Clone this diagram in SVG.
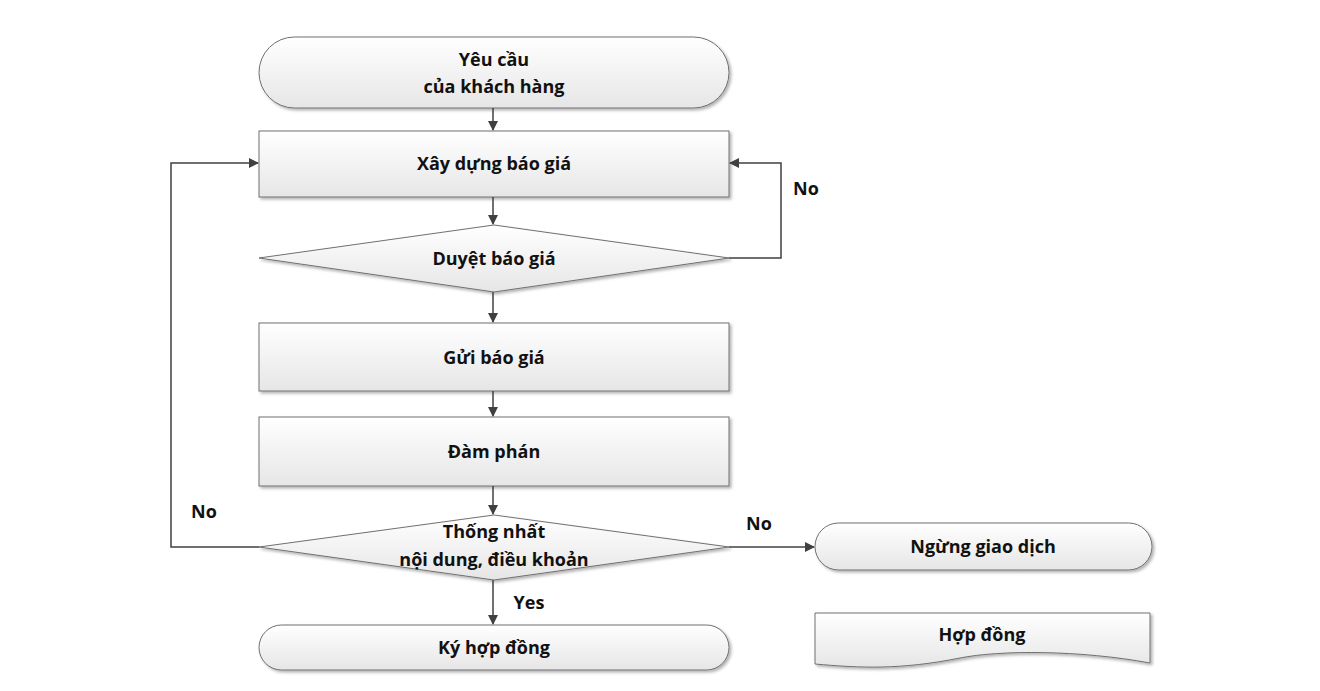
<svg xmlns="http://www.w3.org/2000/svg" width="1320" height="691" viewBox="0 0 1320 691">
<defs>
<linearGradient id="g" x1="0" y1="0" x2="0" y2="1"><stop offset="0" stop-color="#ffffff"/><stop offset="1" stop-color="#e6e6e6"/></linearGradient>
<filter id="sh" x="-5%" y="-10%" width="110%" height="130%"><feDropShadow dx="2" dy="2" stdDeviation="1.5" flood-color="#000" flood-opacity="0.3"/></filter>
<marker id="a" markerWidth="10" markerHeight="10" refX="9" refY="5" orient="auto" markerUnits="userSpaceOnUse"><path d="M0,0 L10,5 L0,10 Z" fill="#404040"/></marker>
</defs>
<style>
.s{fill:url(#g);stroke:#707070;stroke-width:1;filter:url(#sh)}
.t{font-family:"Open Sans","Noto Sans",sans-serif;font-weight:bold;font-size:18px;fill:#111;text-anchor:middle}
.c{fill:none;stroke:#404040;stroke-width:1.5;marker-end:url(#a)}
</style>
<rect width="1320" height="691" fill="#fff"/>
<g id="n1"><rect class="s" x="259" y="37" width="470" height="71" rx="35.5"/><text class="t" x="494" y="66">Yêu cầu</text><text class="t" x="494" y="93">của khách hàng</text></g>
<g id="n2"><rect class="s" x="259" y="131" width="470" height="66"/><text class="t" x="494" y="170">Xây dựng báo giá</text></g>
<g id="n3"><polygon class="s" points="259,258 494,225 729,258 494,292"/><text class="t" x="494" y="265">Duyệt báo giá</text></g>
<g id="n4"><rect class="s" x="259" y="323" width="470" height="68"/><text class="t" x="494" y="364">Gửi báo giá</text></g>
<g id="n5"><rect class="s" x="259" y="417" width="470" height="69"/><text class="t" x="494" y="458">Đàm phán</text></g>
<g id="n6"><polygon class="s" points="259,547 494,515 729,547 494,580"/><text class="t" x="494" y="538">Thống nhất</text><text class="t" x="494" y="566">nội dung, điều khoản</text></g>
<g id="n7"><rect class="s" x="259" y="625" width="470" height="45" rx="22.5"/><text class="t" x="494" y="654">Ký hợp đồng</text></g>
<g id="n8"><rect class="s" x="815" y="523" width="337" height="47" rx="23.5"/><text class="t" x="983" y="553">Ngừng giao dịch</text></g>
<g id="n9"><path class="s" d="M815,613 H1150 V663 C1080,650 1000,650 960,658 C900,670 860,668 815,664 Z"/><text class="t" x="982" y="641">Hợp đồng</text></g>
<g id="connectors">
<path class="c" d="M493,108 V130"/>
<path class="c" d="M493,197 V224"/>
<path class="c" d="M493,292 V322"/>
<path class="c" d="M493,391 V416"/>
<path class="c" d="M493,486 V514"/>
<path class="c" d="M493,580 V624"/>
<path class="c" d="M729,258 H781 V163 H730"/>
<path class="c" d="M259,547 H171 V163 H258"/>
<path class="c" d="M729,547 H814"/>
<text class="t" x="806" y="195">No</text>
<text class="t" x="204" y="518">No</text>
<text class="t" x="759" y="530">No</text>
<text class="t" x="529" y="609">Yes</text>
</g>
</svg>
